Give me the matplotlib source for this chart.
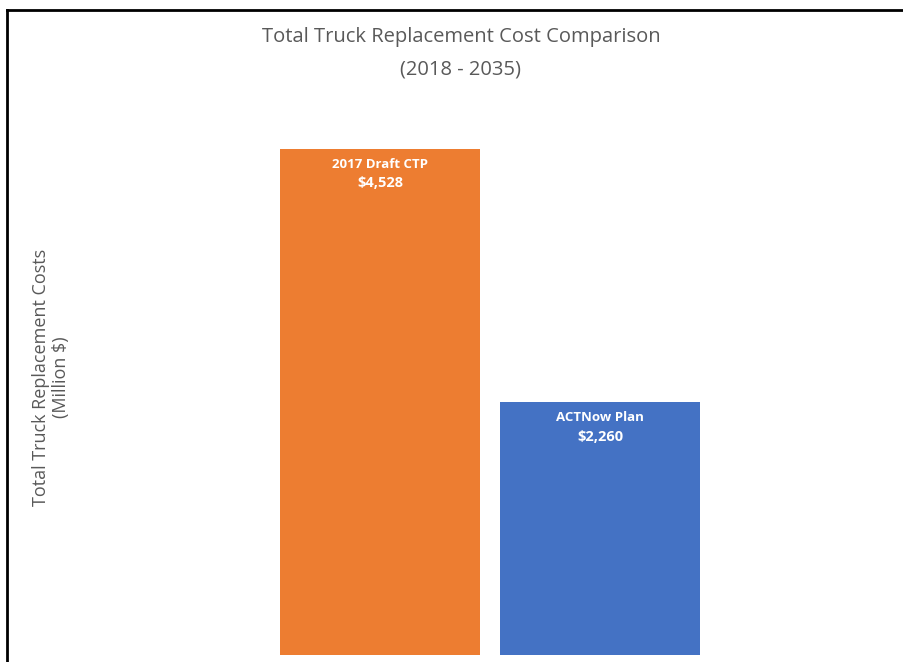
import matplotlib.pyplot as plt
from matplotlib.lines import Line2D

plans = ['2017 Draft CTP', 'ACTNow Plan']
costs = [4528, 2260]
colors = ['#ED7D31', '#4472C4']

W, H = 904, 662
fig = plt.figure(figsize=(W / 100, H / 100), dpi=100)
fig.patch.set_facecolor('white')

# axes placed in pixel terms (left, bottom from bottom edge)
left_px, right_px, top_px, bottom_px = 60, 900, 96, 655
ax = fig.add_axes([left_px / W, (H - bottom_px) / H,
                   (right_px - left_px) / W, (bottom_px - top_px) / H])

x = [0, 1]
ax.bar(x, costs, width=200 / 220, color=colors, edgecolor='none')
ax.set_xlim((left_px - 380) / 220, (right_px - 380) / 220)
ax.set_ylim(0, 5000)
ax.axis('off')

font = 'Open Sans'
for xi, name, val in zip(x, plans, costs):
    ax.annotate(name, (xi, val), xytext=(0, -11), textcoords='offset points',
                ha='center', va='center', color='white', fontsize=9.5,
                fontweight='bold', family=font)
    ax.annotate(f'${val:,}', (xi, val), xytext=(0, -25), textcoords='offset points',
                ha='center', va='center', color='white', fontsize=10.5,
                fontweight='bold', family=font)

fig.text(461 / W, 1 - 37 / H, 'Total Truck Replacement Cost Comparison',
         ha='center', va='center', fontsize=14.5, color='#595959', family=font)
fig.text(461 / W, 1 - 69 / H, '(2018 - 2035)',
         ha='center', va='center', fontsize=14.5, color='#595959', family=font)
fig.text(51 / W, 1 - 377 / H, 'Total Truck Replacement Costs\n(Million $)',
         ha='center', va='center', rotation=90, fontsize=13, color='#595959',
         family=font, linespacing=1.1)

# outer frame (top and left edges visible)
fig.add_artist(Line2D([7 / W, 1], [1 - 10 / H, 1 - 10 / H], color='black', lw=2))
fig.add_artist(Line2D([7 / W, 7 / W], [0, 1 - 10 / H], color='black', lw=2))

fig.savefig('out.png', dpi=100)
